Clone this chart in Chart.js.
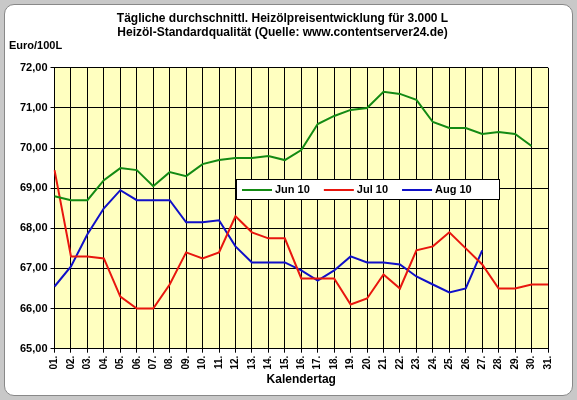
<!DOCTYPE html>
<html><head><meta charset="utf-8">
<script src="https://cdn.jsdelivr.net/npm/chart.js@4"></script>
<style>
body{margin:0;background:#c8c8c8;}
#wrap{position:absolute;left:4px;top:4px;width:567px;height:390px;background:#fff;border-radius:10px;border:1px solid #888;}
</style></head><body>
<div id="wrap"><canvas id="c" width="567" height="390"></canvas></div>
<script>
const days = Array.from({length: 31}, (_, i) => String(i + 1).padStart(2, '0') + '.');
const jun10 = [68.8,68.7,68.7,69.2,69.5,69.45,69.05,69.4,69.3,69.6,69.7,69.75,69.75,69.8,69.7,69.95,70.6,70.8,70.95,71.0,71.4,71.35,71.2,70.65,70.5,70.5,70.35,70.4,70.35,70.05];
const jul10 = [69.45,67.3,67.3,67.25,66.3,66.0,66.0,66.6,67.4,67.25,67.4,68.3,67.9,67.75,67.75,66.75,66.75,66.75,66.1,66.25,66.85,66.5,67.45,67.55,67.9,67.5,67.1,66.5,66.5,66.6,66.6];
const aug10 = [66.55,67.05,67.85,68.5,68.95,68.7,68.7,68.7,68.15,68.15,68.2,67.55,67.15,67.15,67.15,66.95,66.7,66.95,67.3,67.15,67.15,67.1,66.8,66.6,66.4,66.5,67.45];

const fmt = v => v.toFixed(2).replace('.', ',');
const font = 'Arial, "Liberation Sans", sans-serif';

const bgPlugin = {
  id: 'bg',
  beforeDraw(chart) {
    const {ctx, chartArea: a} = chart;
    ctx.save();
    ctx.fillStyle = '#ffffc0';
    ctx.fillRect(a.left, a.top, a.right - a.left, a.bottom - a.top);
    ctx.restore();
  },
  afterDraw(chart) {
    const {ctx} = chart;
    ctx.save();
    ctx.font = 'bold 11px ' + font;
    ctx.fillStyle = '#000';
    ctx.textBaseline = 'middle';
    ctx.fillText('Euro/100L', 4, 41);
    // legend box
    const x = 231, y = 174, w = 263, h = 20;
    ctx.fillStyle = '#fff';
    ctx.fillRect(x, y, w, h);
    ctx.strokeStyle = '#000';
    ctx.lineWidth = 1;
    ctx.strokeRect(x + 0.5, y + 0.5, w, h);
    let lx = x + 6;
    chart.data.datasets.forEach(ds => {
      ctx.strokeStyle = ds.borderColor;
      ctx.lineWidth = 2;
      ctx.beginPath();
      ctx.moveTo(lx, y + h / 2 + 1);
      ctx.lineTo(lx + 30, y + h / 2 + 1);
      ctx.stroke();
      ctx.fillStyle = '#000';
      ctx.fillText(ds.label, lx + 33, y + h / 2 + 1);
      lx += 33 + ctx.measureText(ds.label).width + 14;
    });
    ctx.restore();
  }
};

new Chart(document.getElementById('c'), {
  type: 'line',
  data: {
    labels: days,
    datasets: [
      {label: 'Jun 10', data: jun10, borderColor: '#138a13'},
      {label: 'Jul 10', data: jul10, borderColor: '#e8160e'},
      {label: 'Aug 10', data: aug10, borderColor: '#1010c8'}
    ]
  },
  options: {
    responsive: false,
    animation: false,
    layout: {padding: {top: 0, right: 24, left: 12, bottom: 8}},
    elements: {line: {borderWidth: 2, tension: 0}, point: {radius: 0}},
    scales: {
      y: {
        min: 65, max: 72,
        ticks: {stepSize: 1, color: '#000', font: {family: font, size: 11, weight: 'bold'}, callback: v => fmt(v)},
        grid: {color: '#000', drawTicks: true, tickLength: 4},
        border: {color: '#000'}
      },
      x: {
        ticks: {color: '#000', font: {family: font, size: 10, weight: 'bold'}, maxRotation: 90, minRotation: 90, autoSkip: false},
        grid: {color: '#000', offset: false, tickLength: 4},
        border: {color: '#000'},
        title: {display: true, text: 'Kalendertag', color: '#000', padding: 0, font: {family: font, size: 12, weight: 'bold'}}
      }
    },
    plugins: {
      legend: {display: false},
      title: {
        display: true,
        text: ['Tägliche durchschnittl. Heizölpreisentwicklung für 3.000 L', 'Heizöl-Standardqualität (Quelle: www.contentserver24.de)'],
        color: '#000',
        font: {family: font, size: 12, weight: 'bold'},
        padding: {top: 6, bottom: 28},
        lineHeight: 1.35
      },
      tooltip: {enabled: false}
    }
  },
  plugins: [bgPlugin]
});
</script>
</body></html>
